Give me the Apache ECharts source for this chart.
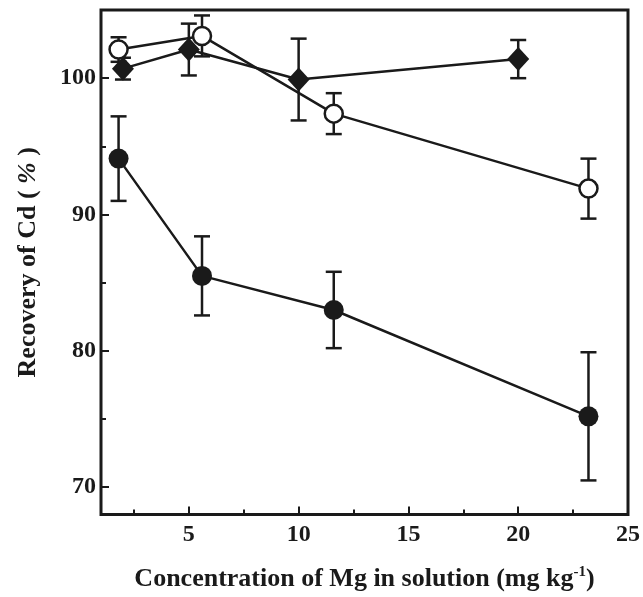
<!DOCTYPE html>
<html>
<head>
<meta charset="utf-8">
<script src="https://cdn.jsdelivr.net/npm/echarts@6/dist/echarts.min.js"></script>
<style>
html, body { margin: 0; padding: 0; background: #fff; }
#chart { width: 643px; height: 597px; }
</style>
</head>
<body>
<div id="chart"></div>
<script>
// x positions (mg kg-1)
var xCircle = [1.8, 5.6, 11.6, 23.2];
var xDiamond = [2, 5, 10, 20];

// recovery (%) and error (+/-)
var filledY = [94.1, 85.5, 83.0, 75.2];
var filledErr = [3.1, 2.9, 2.8, 4.7];
var openY = [102.1, 103.1, 97.4, 91.9];
var openErr = [0.9, 1.5, 1.5, 2.2];
var diamondY = [100.7, 102.1, 99.9, 101.4];
var diamondErr = [0.8, 1.9, 3.0, 1.4];

var xMajor = [5, 10, 15, 20, 25];
var xMinor = [2.5, 7.5, 12.5, 17.5, 22.5];
var yMajor = [70, 80, 90, 100];
var yMinor = [75, 85, 95];

var ink = '#1a1a1a';
var font = 'Liberation Serif';

function pairs(xs, ys) {
	var out = [];
	for (var i = 0; i < xs.length; i++) out.push([xs[i], ys[i]]);
	return out;
}
function errData(xs, ys, es) {
	var out = [];
	for (var i = 0; i < xs.length; i++) out.push([xs[i], ys[i] - es[i], ys[i] + es[i]]);
	return out;
}

function errorBars(name, data) {
	return {
		name : name,
		type : 'custom',
		z : 1,
		data : data,
		renderItem : function(params, api) {
			var lo = api.coord([api.value(0), api.value(1)]);
			var hi = api.coord([api.value(0), api.value(2)]);
			var w = 8;
			var st = { stroke : ink, lineWidth : 2.5 };
			return {
				type : 'group',
				children : [
					{ type : 'line', shape : { x1 : lo[0], y1 : lo[1], x2 : hi[0], y2 : hi[1] }, style : st },
					{ type : 'line', shape : { x1 : lo[0] - w, y1 : lo[1], x2 : lo[0] + w, y2 : lo[1] }, style : st },
					{ type : 'line', shape : { x1 : hi[0] - w, y1 : hi[1], x2 : hi[0] + w, y2 : hi[1] }, style : st }
				]
			};
		}
	};
}

var myChart = echarts.init(document.getElementById('chart'));
var labelStyle = { fontFamily : font, fontWeight : 'bold', fontSize : 24, color : ink };

var option = {
	animation : false,
	grid : {
		left : 101, right : 14, top : 10, bottom : 77,
		show : true, borderColor : ink, borderWidth : 3
	},
	xAxis : [ {
		type : 'value', min : 1, max : 25,
		axisLine : { show : false },
		splitLine : { show : false },
		axisTick : { inside : true, length : 8, lineStyle : { color : ink, width : 2 }, customValues : xMajor },
		axisLabel : Object.assign({ margin : 8, customValues : xMajor }, labelStyle),
		name : '{a|Concentration of Mg in solution (mg kg}{s|-1}{a|)}',
		nameLocation : 'middle',
		nameGap : 50,
		nameTextStyle : {
			rich : {
				a : { fontFamily : font, fontWeight : 'bold', fontSize : 26, color : ink },
				s : { fontFamily : font, fontWeight : 'bold', fontSize : 15, color : ink, verticalAlign : 'top', padding : [0, 0, 14, 0] }
			}
		}
	}, {
		type : 'value', min : 1, max : 25, position : 'bottom',
		axisLine : { show : false },
		splitLine : { show : false },
		axisLabel : { show : false },
		axisTick : { inside : true, length : 5, lineStyle : { color : ink, width : 2 }, customValues : xMinor }
	} ],
	yAxis : [ {
		type : 'value', min : 68, max : 105,
		axisLine : { show : false },
		splitLine : { show : false },
		axisTick : { inside : true, length : 8, lineStyle : { color : ink, width : 2 }, customValues : yMajor },
		axisLabel : Object.assign({ margin : 5, customValues : yMajor }, labelStyle),
		name : '{a|Recovery of Cd ( }{i|%}{a| )}',
		nameLocation : 'middle',
		nameGap : 60,
		nameTextStyle : {
			rich : {
				a : { fontFamily : font, fontWeight : 'bold', fontSize : 26, color : ink },
				i : { fontFamily : font, fontWeight : 'bold', fontStyle : 'italic', fontSize : 26, color : ink }
			}
		}
	}, {
		type : 'value', min : 68, max : 105, position : 'left',
		axisLine : { show : false },
		splitLine : { show : false },
		axisLabel : { show : false },
		axisTick : { inside : true, length : 5, lineStyle : { color : ink, width : 2 }, customValues : yMinor }
	} ],
	series : [
		errorBars('filled err', errData(xCircle, filledY, filledErr)),
		errorBars('open err', errData(xCircle, openY, openErr)),
		errorBars('diamond err', errData(xDiamond, diamondY, diamondErr)),
		{
			name : 'filled', type : 'line', z : 3,
			data : pairs(xCircle, filledY),
			symbol : 'circle', symbolSize : 20,
			lineStyle : { color : ink, width : 2.5 },
			itemStyle : { color : ink }
		},
		{
			name : 'diamond', type : 'line', z : 4,
			data : pairs(xDiamond, diamondY),
			symbol : 'diamond', symbolSize : [22, 24],
			lineStyle : { color : ink, width : 2.5 },
			itemStyle : { color : ink }
		},
		{
			name : 'open', type : 'line', z : 5,
			data : pairs(xCircle, openY),
			symbol : 'circle', symbolSize : 18,
			lineStyle : { color : ink, width : 2.5 },
			itemStyle : { color : '#fff', borderColor : ink, borderWidth : 2.5 }
		}
	]
};
myChart.setOption(option);
</script>
</body>
</html>
